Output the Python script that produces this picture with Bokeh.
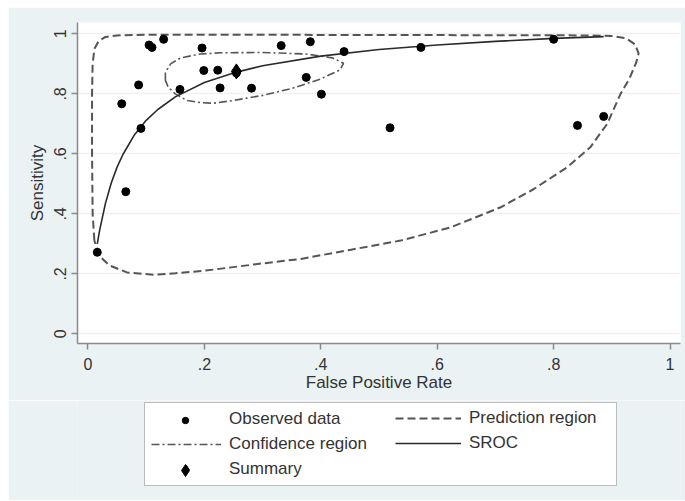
from bokeh.plotting import figure
from bokeh.layouts import column
from bokeh.models import Legend, LegendItem, FixedTicker, Range1d
from bokeh.embed import file_html
from bokeh.resources import INLINE

# Observed study data (false positive rate, sensitivity)
obs_fpr = [0.016, 0.058, 0.065, 0.087, 0.091, 0.105, 0.110, 0.130, 0.158, 0.196,
           0.199, 0.223, 0.227, 0.255, 0.281, 0.332, 0.375, 0.382, 0.401, 0.440,
           0.519, 0.572, 0.800, 0.841, 0.886]
obs_sens = [0.272, 0.767, 0.474, 0.830, 0.685, 0.963, 0.955, 0.982, 0.815, 0.953,
            0.878, 0.879, 0.820, 0.870, 0.819, 0.961, 0.855, 0.974, 0.799, 0.941,
            0.687, 0.955, 0.982, 0.695, 0.725]

# Summary operating point
summary_fpr = [0.255]
summary_sens = [0.875]

# SROC curve
sroc_fpr = [0.016, 0.020, 0.030, 0.040, 0.050, 0.060, 0.080, 0.100, 0.120, 0.150,
            0.200, 0.250, 0.300, 0.400, 0.500, 0.600, 0.700, 0.800, 0.886]
sroc_sens = [0.300, 0.345, 0.435, 0.503, 0.556, 0.598, 0.664, 0.712, 0.748, 0.790,
             0.838, 0.870, 0.894, 0.926, 0.948, 0.963, 0.975, 0.985, 0.991]

# Prediction region contour
pred_fpr = [0.011, 0.008, 0.007, 0.007, 0.008, 0.011, 0.018, 0.030, 0.050, 0.100,
            0.300, 0.600, 0.850, 0.900, 0.925, 0.940, 0.946, 0.942, 0.930, 0.915,
            0.892, 0.863, 0.823, 0.766, 0.709, 0.623, 0.537, 0.450, 0.366, 0.300,
            0.202, 0.150, 0.112, 0.067, 0.037, 0.019, 0.011]
pred_sens = [0.311, 0.400, 0.600, 0.800, 0.900, 0.950, 0.975, 0.990, 0.995, 0.997,
             0.997, 0.996, 0.995, 0.993, 0.985, 0.965, 0.935, 0.905, 0.850, 0.800,
             0.700, 0.622, 0.555, 0.483, 0.422, 0.355, 0.311, 0.280, 0.250, 0.235,
             0.211, 0.202, 0.197, 0.205, 0.228, 0.261, 0.311]

# Confidence region contour
conf_fpr = [0.133, 0.133, 0.142, 0.159, 0.193, 0.228, 0.300, 0.375, 0.420, 0.439,
            0.433, 0.400, 0.350, 0.300, 0.250, 0.216, 0.193, 0.170, 0.150, 0.138, 0.133]
conf_sens = [0.845, 0.872, 0.900, 0.920, 0.933, 0.937, 0.938, 0.933, 0.920, 0.902,
             0.880, 0.850, 0.818, 0.795, 0.778, 0.769, 0.771, 0.778, 0.800, 0.822, 0.845]

tick_values = [0, 0.2, 0.4, 0.6, 0.8, 1]
tick_labels = ["0", ".2", ".4", ".6", ".8", "1"]

FONT = "Liberation Sans"
TXT = "#333333"
AX = "#8a8a8a"
BG = "#EAF2F3"

styles = {
    "pred": dict(line_color="#555555", line_width=2, line_dash="8 4"),
    "conf": dict(line_color="#555555", line_width=1.6, line_dash="8 3 2 3"),
    "sroc": dict(line_color="#2a2a2a", line_width=1.6),
    "obs": dict(size=8, color="black"),
    "summ": dict(marker="diamond", size=15, color="black"),
}

p = figure(width=677, height=393, output_backend="svg", toolbar_location=None,
           x_range=Range1d(-0.018, 1.018), y_range=Range1d(-0.032, 1.038),
           min_border_left=69, min_border_right=5, min_border_top=15, min_border_bottom=57)
p.margin = (7, 0, 0, 8)
p.border_fill_color = BG
p.background_fill_color = "white"
p.outline_line_color = None
p.xgrid.visible = False
p.ygrid.grid_line_color = BG
p.ygrid.grid_line_width = 1.5

overrides = {v: s for v, s in zip(tick_values, tick_labels)}
for ax in (p.xaxis[0], p.yaxis[0]):
    ax.ticker = FixedTicker(ticks=tick_values)
    ax.major_label_overrides = overrides
    ax.axis_line_color = AX
    ax.axis_line_width = 1.5
    ax.major_tick_line_color = AX
    ax.major_tick_line_width = 1.5
    ax.major_tick_out = 6
    ax.major_tick_in = 0
    ax.minor_tick_line_color = None
    ax.major_label_text_font = FONT
    ax.major_label_text_font_size = "16px"
    ax.major_label_text_color = TXT
    ax.axis_label_text_font = FONT
    ax.axis_label_text_font_size = "17px"
    ax.axis_label_text_font_style = "normal"
    ax.axis_label_text_color = TXT

p.xaxis.axis_label = "False Positive Rate"
p.yaxis.axis_label = "Sensitivity"
p.xaxis.major_label_standoff = 8
p.xaxis.axis_label_standoff = 0
p.yaxis.major_label_standoff = 5
p.yaxis.axis_label_standoff = 5
p.yaxis.major_label_orientation = "vertical"

p.line(pred_fpr, pred_sens, **styles["pred"])
p.line(conf_fpr, conf_sens, **styles["conf"])
p.line(sroc_fpr, sroc_sens, **styles["sroc"])
p.scatter(obs_fpr, obs_sens, **styles["obs"])
p.scatter(summary_fpr, summary_sens, **styles["summ"])

# Legend panel below the plot: hidden copies of the series supply the legend glyphs
lf = figure(width=677, height=100, output_backend="svg", toolbar_location=None,
            x_range=Range1d(-0.018, 1.018), y_range=Range1d(-0.032, 1.038),
            x_axis_location=None, y_axis_location=None,
            min_border_left=0, min_border_right=0, min_border_top=0, min_border_bottom=0)
lf.margin = (0, 0, 0, 8)
lf.border_fill_color = BG
lf.background_fill_color = BG
lf.outline_line_color = None
lf.grid.visible = False

r_pred = lf.line(pred_fpr, pred_sens, visible=False, **styles["pred"])
r_conf = lf.line(conf_fpr, conf_sens, visible=False, **styles["conf"])
r_sroc = lf.line(sroc_fpr, sroc_sens, visible=False, **styles["sroc"])
r_obs = lf.scatter(obs_fpr, obs_sens, visible=False, **styles["obs"])
r_obs_blank = lf.scatter(obs_fpr, obs_sens, visible=False, size=8, fill_alpha=0.0, line_alpha=0.0)
r_summ = lf.scatter(summary_fpr, summary_sens, visible=False, **styles["summ"])

common = dict(orientation="vertical", glyph_height=20, label_height=20, label_standoff=8,
              padding=6, spacing=5, margin=0, label_text_font=FONT,
              label_text_font_size="17px", label_text_color=TXT,
              inactive_fill_alpha=0.0)

leg1 = Legend(items=[LegendItem(label="Observed data", renderers=[r_obs_blank]),
                     LegendItem(label="Confidence region", renderers=[r_conf]),
                     LegendItem(label="Summary", renderers=[r_summ])],
              location=(67, 14), glyph_width=70, label_width=381,
              border_line_color="#7a7a7a", border_line_width=1.5,
              background_fill_color="white", background_fill_alpha=1.0, **common)
leg2 = Legend(items=[LegendItem(label="Prediction region", renderers=[r_pred]),
                     LegendItem(label="SROC", renderers=[r_sroc])],
              location=(318, 47), glyph_width=66,
              border_line_color=None, background_fill_alpha=0.0, **common)

key_common = dict(orientation="vertical", glyph_width=70, label_width=0, label_standoff=0,
                  padding=0, spacing=0, margin=0, border_line_color=None,
                  background_fill_alpha=0.0, inactive_fill_alpha=0.0,
                  label_text_font_size="1px")
# larger summary diamond drawn over the legend's summary key
leg3 = Legend(items=[LegendItem(label="", renderers=[r_summ])],
              location=(73, 15), glyph_height=30, label_height=20, **key_common)
# smaller observed-data dot for the legend's first key
leg4 = Legend(items=[LegendItem(label="", renderers=[r_obs])],
              location=(73, 72), glyph_height=16, label_height=16, **key_common)
lf.add_layout(leg1)
lf.add_layout(leg2)
lf.add_layout(leg3)
lf.add_layout(leg4)

layout = column(p, lf, spacing=0)
open("out.html", "w").write(file_html(layout, INLINE))
